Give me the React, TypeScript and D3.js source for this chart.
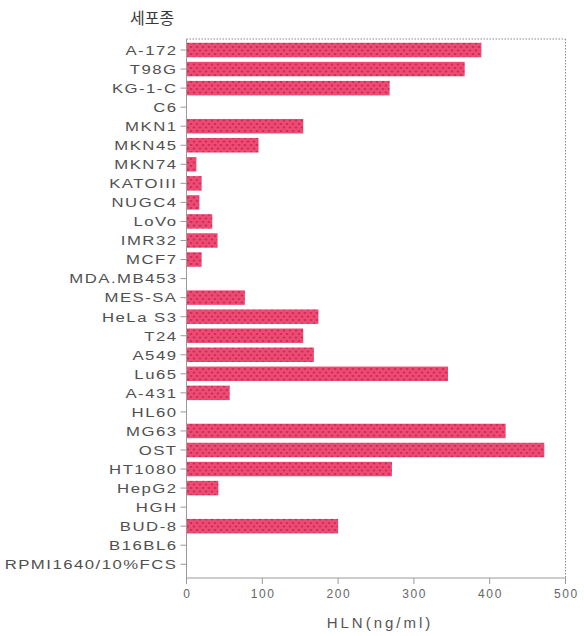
import React from "react";
import * as d3 from "d3";

// Cell lines, top to bottom
const cellLines: string[] = [
  "A-172", "T98G", "KG-1-C", "C6", "MKN1", "MKN45", "MKN74", "KATOIII",
  "NUGC4", "LoVo", "IMR32", "MCF7", "MDA.MB453", "MES-SA", "HeLa S3", "T24",
  "A549", "Lu65", "A-431", "HL60", "MG63", "OST", "HT1080", "HepG2", "HGH",
  "BUD-8", "B16BL6", "RPMI1640/10%FCS",
];

// HLN concentration (ng/ml) for each cell line
const hlnValues: number[] = [
  389, 367, 268, 0, 154, 95, 13, 20,
  17, 34, 41, 20, 0, 77, 174, 154,
  168, 345, 57, 0, 421, 472, 271, 42, 0,
  200, 0, 0,
];

const xTicks: number[] = [0, 100, 200, 300, 400, 500];

const W = 584;
const H = 636;

export default function App() {
  const x = d3.scaleLinear().domain([0, 500]).range([186.5, 565.5]);
  const y = d3.scaleBand<string>().domain(cellLines).range([40.5, 573.8]).paddingInner(0.24).paddingOuter(0.12);
  const axisY = 578;
  const frameTop = 39;
  const textColor = "#505050";
  const axisColor = "#9a9a9a";
  const labelFont = "'Liberation Sans', Arial, sans-serif";

  return (
    <svg width={W} height={H} style={{ position: "absolute", left: 0, top: 0, background: "#fff" }}>
      <defs>
        <pattern id="dots" width={6} height={7} patternUnits="userSpaceOnUse" x={186.5} y={0}>
          <rect width={6} height={7} fill="#ee4b72" />
          <circle cx={1.5} cy={1.5} r={0.9} fill="#b8184f" />
          <circle cx={4.5} cy={5} r={0.9} fill="#b8184f" />
        </pattern>
      </defs>

      {/* title */}
      <text x={130} y={24} fontSize={16} fill="#3a3a3a" fontFamily="'Noto Sans CJK KR', sans-serif">세포종</text>

      {/* dotted frame top and right */}
      <line x1={x(0)} x2={x(500)} y1={frameTop} y2={frameTop} stroke="#8a8a8a" strokeWidth={1} strokeDasharray="1.5,1.5" />
      <line x1={x(500)} x2={x(500)} y1={frameTop} y2={axisY} stroke="#8a8a8a" strokeWidth={1} strokeDasharray="1.5,1.5" />

      {/* bars */}
      {cellLines.map((c, i) =>
        hlnValues[i] > 0 ? (
          <rect key={c} x={x(0)} y={y(c)} width={x(hlnValues[i]) - x(0)} height={y.bandwidth()} fill="url(#dots)" />
        ) : null
      )}

      {/* y axis */}
      <line x1={x(0)} x2={x(0)} y1={frameTop} y2={axisY} stroke={axisColor} strokeWidth={1} />
      {cellLines.map((c) => {
        const cy = (y(c) as number) + y.bandwidth() / 2;
        return (
          <g key={c}>
            <line x1={x(0) - 6} x2={x(0)} y1={cy} y2={cy} stroke={axisColor} />
            <g transform={`translate(${x(0) - 10.5},${cy}) scale(1.24,1)`}>
              <text x={1.2} y={0} dy="0.36em" textAnchor="end" fontSize={13.5} letterSpacing={1.2}
                fill={textColor} fontFamily={labelFont}>{c}</text>
            </g>
          </g>
        );
      })}

      {/* x axis */}
      <line x1={x(0)} x2={x(500)} y1={axisY} y2={axisY} stroke={axisColor} strokeWidth={1} />
      {xTicks.map((t) => (
        <g key={t}>
          <line x1={x(t)} x2={x(t)} y1={axisY} y2={axisY + 6} stroke={axisColor} />
          <text x={x(t) + 0.8} y={598} textAnchor="middle" fontSize={12} letterSpacing={1.6}
            fill="#666" fontFamily={labelFont}>{t}</text>
        </g>
      ))}
      <text x={380} y={628} textAnchor="middle" fontSize={15} letterSpacing={3} fill="#555" fontFamily={labelFont}>HLN(ng/ml)</text>
    </svg>
  );
}
